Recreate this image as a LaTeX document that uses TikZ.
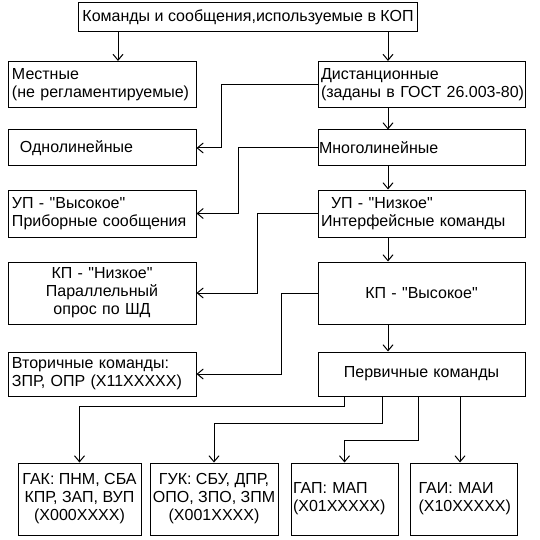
\documentclass[tikz,border=0pt]{standalone}
\usepackage{fontspec}
\setmainfont{Liberation Sans}[Ligatures=TeXOff]
\usetikzlibrary{arrows.meta}
\tikzset{
  box/.style={draw,line width=1pt,inner xsep=4pt,inner ysep=2pt,
              font=\fontsize{16}{18}\selectfont},
  lbox/.style={box,text width=180pt,align=left},
  rbox/.style={box,text width=205pt,inner xsep=1pt,align=left},
  cbox/.style={box,align=center},
  bbox/.style={box,minimum height=72pt,text width=103pt,inner xsep=2pt,align=left},
  arr/.style={-{Straight Barb[length=6pt,width=10pt]},line width=1pt},
}

\begin{document}
\begin{tikzpicture}[x=1pt,y=-1pt]
    \useasboundingbox (0,0) rectangle (539,540);
    \node[cbox,minimum width=314pt,minimum height=29pt] (kop) at (248,17.5)
         {Команды и сообщения,используемые в КОП};
    % left column
    \node[lbox,minimum height=46pt] (mest) at (102,84.5) {Местные\\(не регламентируемые)};
    \node[lbox,minimum height=36pt] (odno) at (102,148) {\hspace*{8pt}Однолинейные};
    \node[lbox,minimum height=47pt] (upv) at (102,213.5) {УП - "Высокое"\\Приборные сообщения};
    \node[lbox,minimum height=62pt,align=center] (kpn) at (102,293)
         {КП - "Низкое"\\Параллельный\hspace*{22pt}\\опрос по ШД\hspace*{28pt}};
    \node[lbox,minimum height=44pt] (vtor) at (102,374) {Вторичные команды:\\ЗПР, ОПР (X11XXXXX)};
    % right column
    \node[rbox,minimum height=46pt] (dist) at (421.5,84.5)
         {\hspace*{2pt}Дистанционные\\\mbox{\hspace*{2pt}(заданы в ГОСТ 26.003-80)}};
    \node[rbox,minimum height=36pt] (mnog) at (421.5,148) {Многолинейные};
    \node[rbox,minimum height=47pt] (upn) at (421.5,213.5)
         {\hspace*{12pt}УП - "Низкое"\\\hspace*{2pt}Интерфейсные команды};
    \node[rbox,minimum height=62pt,align=center] (kpv) at (421.5,293) {КП - "Высокое"};
    \node[rbox,minimum height=44pt,align=center] (perv) at (421.5,374) {Первичные команды\\[4pt]};
    % bottom row
    \node[cbox,minimum width=123pt,minimum height=72pt] (gak) at (79.5,499)
         {ГАК: ПНМ, СБА\\КПР, ЗАП, ВУП\\(X000XXXX)};
    \node[cbox,minimum width=128pt,minimum height=72pt,inner xsep=1pt] (guk) at (214,499)
         {ГУК: СБУ, ДПР,\\ОПО, ЗПО, ЗПМ\\(X001XXXX)};
    \node[bbox] (gap) at (344.5,499) {ГАП: МАП\\(X01XXXXX)\\[6pt]};
    \node[bbox] (gai) at (464,499) {\hspace*{6pt}ГАИ: МАИ\\\hspace*{6pt}(X10XXXXX)};

    \draw[arr] ([xshift=16pt]mest.north |- kop.south) -- ([xshift=16pt]mest.north);
    \draw[arr] ([xshift=-33.5pt]dist.north |- kop.south) -- ([xshift=-33.5pt]dist.north);
    \draw[arr] ([xshift=-33.5pt]dist.south) -- ([xshift=-33.5pt]mnog.north);
    \draw[arr] ([xshift=-33.5pt]mnog.south) -- ([xshift=-33.5pt]upn.north);
    \draw[arr] ([xshift=-33.5pt]upn.south) -- ([xshift=-33.5pt]kpv.north);
    \draw[arr] ([xshift=-33.5pt]kpv.south) -- ([xshift=-33.5pt]perv.north);

    \draw[arr] (dist.west) -- ++(-96,0) |- (odno.east);
    \draw[arr] (mnog.west) -- ++(-79,0) |- (upv.east);
    \draw[arr] (upn.west) -- ++(-60,0) |- (kpn.east);
    \draw[arr] (kpv.west) -- ++(-36,0) |- (vtor.east);

    \draw[arr] ([xshift=-77.5pt]perv.south) -- ++(0,10) -| (gak.north);
    \draw[arr] ([xshift=-39.5pt]perv.south) -- ++(0,27) -| (guk.north);
    \draw[arr] ([xshift=-3.5pt]perv.south) -- ++(0,44) -| (gap.north);
    \draw[arr] ([xshift=-4pt]gai.north |- perv.south) -- ([xshift=-4pt]gai.north);
\end{tikzpicture}
\end{document}
